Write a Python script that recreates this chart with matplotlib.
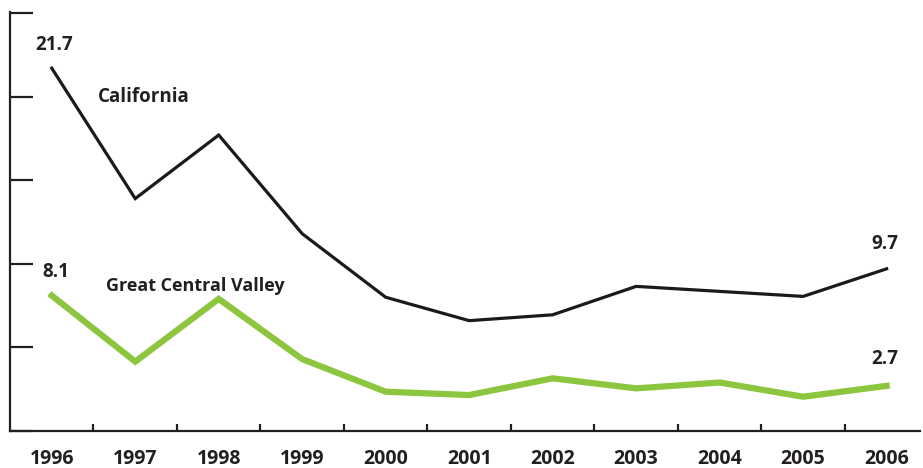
import matplotlib.pyplot as plt
from matplotlib.ticker import FixedLocator

years = list(range(1996, 2007))
california = [21.7, 13.9, 17.7, 11.8, 8.0, 6.6, 6.95, 8.65, 8.35, 8.05, 9.7]
central_valley = [8.1, 4.15, 7.9, 4.3, 2.35, 2.15, 3.15, 2.55, 2.9, 2.05, 2.7]
y_ticks = [0, 5, 10, 15, 20, 25]

plt.rcParams['font.family'] = ['Open Sans', 'DejaVu Sans']

fig = plt.figure(figsize=(9.23, 4.68), dpi=100)
ax = fig.add_axes([10 / 923, 37 / 468, 910 / 923, 419 / 468])

ax.plot(years, california, color='#1a1a1a', lw=2.3, solid_joinstyle='miter')
ax.plot(years, central_valley, color='#8cc63f', lw=4.5, solid_joinstyle='miter')

ax.set_xlim(1995.5, 2006.4)
ax.set_ylim(0, 25.06)

for s in ['top', 'right']:
    ax.spines[s].set_visible(False)
for s in ['left', 'bottom']:
    ax.spines[s].set_linewidth(1.6)
    ax.spines[s].set_color('#231f20')

ax.yaxis.set_major_locator(FixedLocator(y_ticks))
ax.set_yticklabels([])
ax.tick_params(axis='y', direction='in', length=16.5, width=1.6, color='#231f20')

ax.xaxis.set_major_locator(FixedLocator(years))
ax.xaxis.set_minor_locator(FixedLocator([y + 0.5 for y in years[:-1]]))
ax.set_xticklabels([str(y) for y in years])
ax.tick_params(axis='x', which='major', length=0, pad=13)
ax.tick_params(axis='x', which='minor', direction='in', length=5, width=1.6, color='#231f20')
for lab in ax.get_xticklabels():
    lab.set_fontsize(14)
    lab.set_fontweight('bold')
    lab.set_color('#231f20')

txt = dict(fontsize=13.5, fontweight='bold', color='#231f20', ha='center', va='center')
ax.annotate('21.7', (years[0], california[0]), xytext=(2, 17), textcoords='offset points', **txt)
ax.annotate('8.1', (years[0], central_valley[0]), xytext=(3, 17), textcoords='offset points', **txt)
ax.annotate('9.7', (years[-1], california[-1]), xytext=(-1, 18), textcoords='offset points', **txt)
ax.annotate('2.7', (years[-1], central_valley[-1]), xytext=(-1, 19), textcoords='offset points', **txt)

ax.text(1996.55, 20.0, 'California', fontsize=13.5, fontweight='bold', color='#231f20', va='center')
ax.text(1996.65, 8.7, 'Great Central Valley', fontsize=13, fontweight='bold', color='#231f20', va='center')

fig.savefig('out.png', dpi=100)
